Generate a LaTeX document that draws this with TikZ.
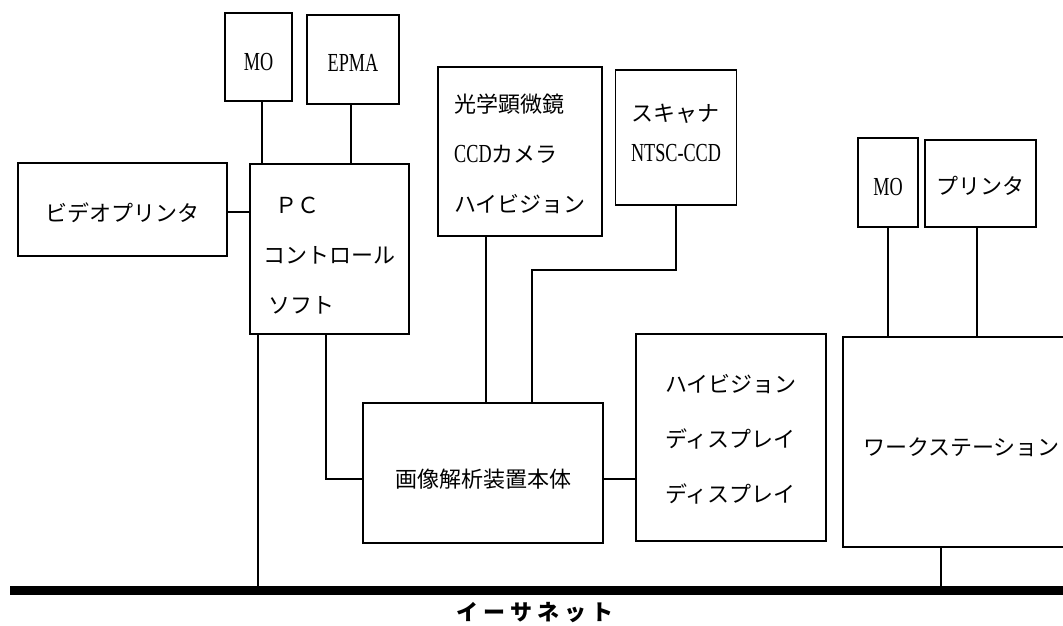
\documentclass[tikz,border=0pt]{standalone}
\usepackage{fontspec}
\newfontfamily\jp{Noto Sans CJK JP}
\newfontfamily\cond[FakeStretch=0.7]{Liberation Serif}
\begin{document}
\begin{tikzpicture}[x=1pt,y=-1pt,
  box/.style={draw,line width=1.8pt,inner sep=0pt},
  conn/.style={line width=1.8pt},
  txt/.style={align=left,inner sep=0pt},
  jpf/.style={txt,font=\jp\fontsize{22}{50}\selectfont},
  latf/.style={txt,font=\cond\fontsize{26}{30}\selectfont}]
\clip (0,0) rectangle (1063,625);
\fill[white] (0,0) rectangle (1063,625);
% boxes
\node[box,minimum width=67,minimum height=88,label={[latf,yshift=-5]center:MO}] (mo1) at (258.5,57) {};
\node[box,minimum width=92,minimum height=89,label={[latf,yshift=-3]center:EPMA}] (epma) at (353,59.5) {};
\node[box,minimum width=209,minimum height=93,label={[jpf,yshift=-3]center:ビデオプリンタ}] (video) at (122.5,209.5) {};
\node[box,minimum width=159,minimum height=170,label={[jpf,yshift=-7]center:{\hspace*{12pt}ＰＣ\\コントロール\\\hspace*{5pt}ソフト}}] (pc) at (329.5,249) {};
\node[box,minimum width=164,minimum height=169,label={[jpf,yshift=-2]center:{光学顕微鏡\\{\cond\fontsize{26}{50}\selectfont CCD}カメラ\\ハイビジョン}}] (opt) at (520,151.5) {};
\node[box,minimum width=121,minimum height=135,label={[jpf,font=\jp\fontsize{22}{40}\selectfont,yshift=5]center:{スキャナ\\{\cond\fontsize{26}{40}\selectfont NTSC-CCD}}}] (scan) at (676,137.5) {};
\node[box,minimum width=240,minimum height=140,label={[jpf,yshift=-6]center:画像解析装置本体}] (main) at (483,473) {};
\node[box,minimum width=190,minimum height=207,label={[jpf,font=\jp\fontsize{22}{55}\selectfont,yshift=-2]center:{ハイビジョン\\ディスプレイ\\ディスプレイ}}] (disp) at (731,437.5) {};
\node[box,minimum width=60,minimum height=89,label={[latf,yshift=-5]center:MO}] (mo2) at (888,182.5) {};
\node[box,minimum width=111,minimum height=87,label={[jpf,yshift=-2]center:プリンタ}] (prn) at (980.5,183.5) {};
\node[box,minimum width=237,minimum height=210,label={[jpf,yshift=-5]center:ワークステーション}] (ws) at (961.5,442) {};
% ethernet
\coordinate (eL) at (10,590);
\coordinate (eR) at (1063,590);
\draw[line width=9pt] (eL) -- (eR);
\node[font=\jp\bfseries\fontsize{22}{26}\selectfont] (eth) at (535,613) {イ\hspace{5pt}ー\hspace{5pt}サ\hspace{5pt}ネ\hspace{5pt}ッ\hspace{5pt}ト};
% connectors
\draw[conn] ([xshift=3.5]mo1.south) -- ([xshift=3.5]mo1.south |- pc.north);
\draw[conn] ([xshift=-2]epma.south) -- ([xshift=-2]epma.south |- pc.north);
\draw[conn] ([yshift=-2.5]video.east) -- ([yshift=-2.5]video.east -| pc.west);
\draw[conn] ([xshift=9]pc.south west) -- ([xshift=9]pc.south west |- eL);
\draw[conn] ([xshift=-3.5]pc.south) |- ([yshift=-6]main.west);
\draw[conn] ([xshift=-34]opt.south) -- ([xshift=-34]opt.south |- main.north);
\coordinate (bend) at (532,270);
\draw[conn] (scan.south) |- (bend) -- (bend |- main.north);
\draw[conn] ([yshift=-6]main.east) -- ([yshift=-6]main.east -| disp.west);
\draw[conn] (mo2.south) -- (mo2.south |- ws.north);
\draw[conn] ([xshift=-3.5]prn.south) -- ([xshift=-3.5]prn.south |- ws.north);
\draw[conn] ([xshift=-20.5]ws.south) -- ([xshift=-20.5]ws.south |- eL);
\end{tikzpicture}
\end{document}
